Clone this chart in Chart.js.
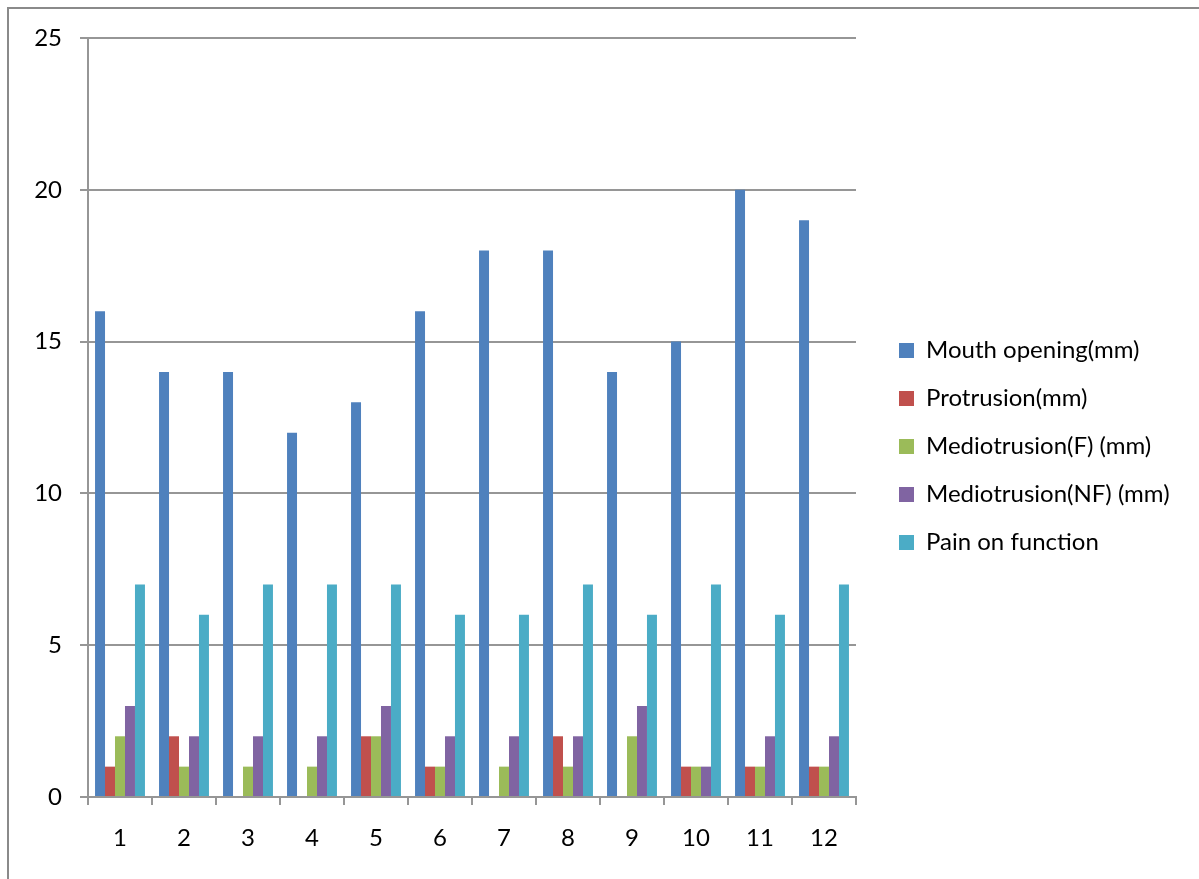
<!DOCTYPE html>
<html>
<head>
<meta charset="utf-8">
<script src="https://cdn.jsdelivr.net/npm/chart.js@4.4.1/dist/chart.umd.min.js"></script>
<style>
  html, body { margin: 0; padding: 0; background: #ffffff; }
  #wrap { position: relative; width: 1199px; height: 879px; overflow: hidden; }
  #frame { position: absolute; left: 7px; top: 7px; width: 1250px; height: 900px;
           border-left: 2px solid #8a8a8a; border-top: 2px solid #8a8a8a; }
  #chart { position: absolute; left: 0; top: 0; }
</style>
</head>
<body>
<div id="wrap">
  <div id="frame"></div>
  <canvas id="chart" width="1199" height="879"></canvas>
</div>
<script>
// Patients 1–12
const categories = ['1', '2', '3', '4', '5', '6', '7', '8', '9', '10', '11', '12'];

const mouthOpening     = [16, 14, 14, 12, 13, 16, 18, 18, 14, 15, 20, 19];
const protrusion       = [1, 2, 0, 0, 2, 1, 0, 2, 0, 1, 1, 1];
const mediotrusionF    = [2, 1, 1, 1, 2, 1, 1, 1, 2, 1, 1, 1];
const mediotrusionNF   = [3, 2, 2, 2, 3, 2, 2, 2, 3, 1, 2, 2];
const painOnFunction   = [7, 6, 7, 7, 7, 6, 6, 7, 6, 7, 6, 7];

const seriesNames = ['Mouth opening(mm)', 'Protrusion(mm)', 'Mediotrusion(F) (mm)',
                     'Mediotrusion(NF) (mm)', 'Pain on function'];
const yTicks = { min: 0, max: 25, step: 5 };

const colors = ['#4F81BD', '#C0504D', '#9BBB59', '#8064A2', '#4BACC6'];
const seriesValues = [mouthOpening, protrusion, mediotrusionF, mediotrusionNF, painOnFunction];

const FONT = 'Lato, "Open Sans", sans-serif';
const FONT_SIZE = 24;
const GRID = '#969696';

// Legend column: reserve a fixed strip on the right, then place the entries inside it
const PLOT_RIGHT = 856;
const LEGEND_X = 899;
const LEGEND_PAD = 24;
const LEGEND_DY = -12;
const legendPlacement = {
  id: 'legendPlacement',
  afterInit(chart) {
    const lg = chart.legend;
    const fit = lg.fit;
    lg.fit = function () { fit.call(this); this.width = chart.width - PLOT_RIGHT; };
  },
  afterLayout(chart) {
    const lg = chart.legend;
    const dx = (LEGEND_X - LEGEND_PAD) - lg.left;
    lg.left += dx; lg.right += dx;
    lg.top += LEGEND_DY; lg.bottom += LEGEND_DY;
  }
};

new Chart(document.getElementById('chart'), {
  type: 'bar',
  data: {
    labels: categories,
    datasets: seriesNames.map((name, i) => ({
      label: name,
      data: seriesValues[i],
      backgroundColor: colors[i],
      borderWidth: 0,
      categoryPercentage: 0.78,
      barPercentage: 1.0
    }))
  },
  options: {
    responsive: false,
    devicePixelRatio: 1,
    animation: false,
    layout: { padding: { top: 38, left: 0, right: 0, bottom: 0 } },
    plugins: {
      tooltip: { enabled: false },
      legend: {
        position: 'right',
        labels: {
          font: { family: FONT, size: FONT_SIZE },
          color: '#000000',
          boxWidth: 15,
          boxHeight: 15,
          padding: LEGEND_PAD
        }
      }
    },
    scales: {
      x: {
        grid: { offset: true, drawOnChartArea: false, drawTicks: true, tickLength: 8,
                color: GRID, lineWidth: 2 },
        border: { display: true, color: GRID, width: 2 },
        ticks: { font: { family: FONT, size: FONT_SIZE }, color: '#000000', padding: 19,
                 maxRotation: 0 },
        afterFit(scale) { scale.height = 82; }
      },
      y: {
        min: yTicks.min,
        max: yTicks.max,
        grid: { color: GRID, lineWidth: 2, drawTicks: true, tickLength: 8 },
        border: { display: true, color: GRID, width: 2 },
        ticks: { stepSize: yTicks.step, font: { family: FONT, size: FONT_SIZE }, color: '#000000',
                 padding: 18 },
        afterFit(scale) { scale.width = 88; }
      }
    }
  },
  plugins: [legendPlacement]
});
</script>
</body>
</html>
